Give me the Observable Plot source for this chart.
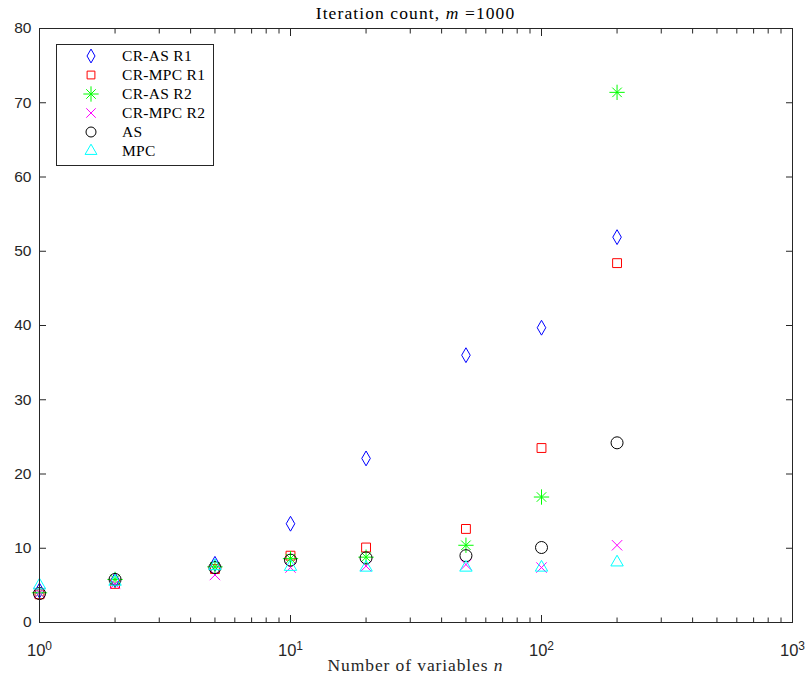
<!DOCTYPE html>
<html>
<head>
<meta charset="utf-8">
<script src="https://cdn.jsdelivr.net/npm/d3@7"></script>
<script src="https://cdn.jsdelivr.net/npm/@observablehq/plot@0.6"></script>
<style>
  body { margin: 0; background: #fff; }
</style>
</head>
<body>
<div id="chart"></div>
<script>
// ---- data ----
const nValues   = [1, 2, 5, 10, 20, 50, 100, 200];
const crasR1    = [4.3, 5.7, 7.9, 13.3, 22.1, 36.0, 39.7, 51.9];
const crmpcR1   = [3.8, 5.2, 7.2, 9.0, 10.1, 12.6, 23.5, 48.4];
const crasR2    = [4.0, 5.8, 7.5, 8.6, 8.8, 10.4, 16.9, 71.4];
const crmpcR2   = [4.0, 5.2, 6.4, 7.4, 7.6, 7.8, 7.4, 10.4];
const asIter    = [3.9, 5.8, 7.4, 8.4, 8.7, 9.0, 10.1, 24.2];
const mpcIter   = [5.0, 5.5, 7.6, 7.5, 7.4, 7.4, 7.4, 8.1];

const seriesNames = ["CR-AS R1", "CR-MPC R1", "CR-AS R2", "CR-MPC R2", "AS", "MPC"];
const seriesVals  = [crasR1, crmpcR1, crasR2, crmpcR2, asIter, mpcIter];
const seriesColor = ["#0000ff", "#ff0000", "#00ff00", "#ff00ff", "#000000", "#00ffff"];

const yTicks = [0, 10, 20, 30, 40, 50, 60, 70, 80];
const xMajor = [1, 10, 100, 1000];
const xMinor = [2,3,4,5,6,7,8,9, 20,30,40,50,60,70,80,90, 200,300,400,500,600,700,800,900];

// ---- styling ----
const style = [
  {symbol: "diamond",  r: 4.5},
  {symbol: "square",   r: 5.0},
  {symbol: "asterisk", r: 5.0},
  {symbol: "times",    r: 4.8},
  {symbol: "circle",   r: 6.0},
  {symbol: "triangle", r: 4.6}
];

const rows = seriesNames.map((name, i) => nValues.map((n, j) => ({series: name, n, v: seriesVals[i][j]})));

const W = 807, H = 679;
const mL = 39, mR = 15, mT = 28, mB = 57;
const axisColor = "#262626";

const dotMarks = [];
rows.forEach((data, i) => {
  if (style[i].symbol === "asterisk") {
    dotMarks.push(Plot.dot(data, {x: "n", y: "v", symbol: "plus", r: 5.0, stroke: seriesColor[i], strokeWidth: 1}));
    dotMarks.push(Plot.dot(data, {x: "n", y: "v", symbol: "times", r: 4.4, stroke: seriesColor[i], strokeWidth: 1}));
  } else {
    dotMarks.push(Plot.dot(data, {x: "n", y: "v", symbol: style[i].symbol, r: style[i].r, stroke: seriesColor[i], fill: "none", strokeWidth: 1}));
  }
});

const svg = Plot.plot({
  width: W, height: H,
  marginLeft: mL, marginRight: mR, marginTop: mT, marginBottom: mB,
  style: {fontFamily: "'Liberation Sans', Arial, sans-serif", fontSize: "15px", color: axisColor, background: "#fff"},
  x: {type: "log", domain: [1, 1000]},
  y: {domain: [0, 80]},
  marks: [
    Plot.axisY({anchor: "left", ticks: yTicks, tickSize: -7, tickPadding: 15, label: null, tickFormat: d => String(d), fill: axisColor, fontSize: 15.5}),
    Plot.axisY({anchor: "right", ticks: yTicks, tickSize: -7, label: null, tickFormat: () => ""}),
    Plot.axisX({anchor: "bottom", ticks: xMajor, tickSize: -7, tickPadding: 29, label: null, tickFormat: d => "10^" + Math.round(Math.log10(d)), fill: axisColor, fontSize: 16.5}),
    Plot.axisX({anchor: "bottom", ticks: xMinor, tickSize: -4.5, label: null, tickFormat: () => ""}),
    Plot.axisX({anchor: "top", ticks: xMajor, tickSize: -7, label: null, tickFormat: () => ""}),
    Plot.axisX({anchor: "top", ticks: xMinor, tickSize: -4.5, label: null, tickFormat: () => ""}),
    ...dotMarks,
    Plot.frame({stroke: axisColor, strokeWidth: 1})
  ]
});

const s = d3.select(svg);
// superscript exponents on x tick labels
s.selectAll('g[aria-label="x-axis tick label"] text').each(function() {
  const t = d3.select(this);
  const txt = t.text();
  if (!txt.includes("^")) return;
  const e = txt.split("^")[1];
  t.text("10");
  t.append("tspan").attr("dy", "-0.55em").attr("font-size", "12px").text(e);
});

const serif = "'Liberation Serif', 'Times New Roman', serif";
const cx = (mL + (W - mR)) / 2;
// title
const title = s.append("text").attr("x", cx).attr("y", 19).attr("text-anchor", "middle")
  .attr("font-family", serif).attr("font-size", "17.5px").attr("letter-spacing", "1.1px").attr("fill", "#000");
title.append("tspan").text("Iteration count, ");
title.append("tspan").attr("font-style", "italic").text("m");
title.append("tspan").text(" =1000");
// x label
const xl = s.append("text").attr("x", cx).attr("y", 671).attr("text-anchor", "middle")
  .attr("font-family", serif).attr("font-size", "17.5px").attr("letter-spacing", "0.9px").attr("fill", "#262626");
xl.append("tspan").text("Number of variables ");
xl.append("tspan").attr("font-style", "italic").text("n");

// legend
const lg = s.append("g");
lg.append("rect").attr("x", 56.5).attr("y", 44.5).attr("width", 157).attr("height", 121)
  .attr("fill", "#fff").attr("stroke", axisColor).attr("stroke-width", 1);
const rowY = [56, 75, 94, 113, 132, 151];
seriesNames.forEach((name, i) => {
  const g = lg.append("g").attr("transform", `translate(91,${rowY[i]})`);
  const col = seriesColor[i];
  const path = (type, r) => g.append("path").attr("d", d3.symbol(type, Math.PI * r * r)()).attr("fill", "none").attr("stroke", col).attr("stroke-width", 1);
  if (i === 0) path(d3.symbolDiamond, 4.2);
  if (i === 1) path(d3.symbolSquare, 4.4);
  if (i === 2) { path(d3.symbolPlus, 5.0); path(d3.symbolTimes, 4.4); }
  if (i === 3) path(d3.symbolTimes, 4.4);
  if (i === 4) path(d3.symbolCircle, 5.0);
  if (i === 5) path(d3.symbolTriangle, 4.4);
  lg.append("text").attr("x", 122).attr("y", rowY[i]).attr("dy", "0.35em").attr("text-anchor", "start")
    .attr("font-family", serif).attr("font-size", "15.5px").attr("letter-spacing", "0.3px").attr("fill", "#000").text(name);
});

document.getElementById("chart").appendChild(svg);
</script>
</body>
</html>
